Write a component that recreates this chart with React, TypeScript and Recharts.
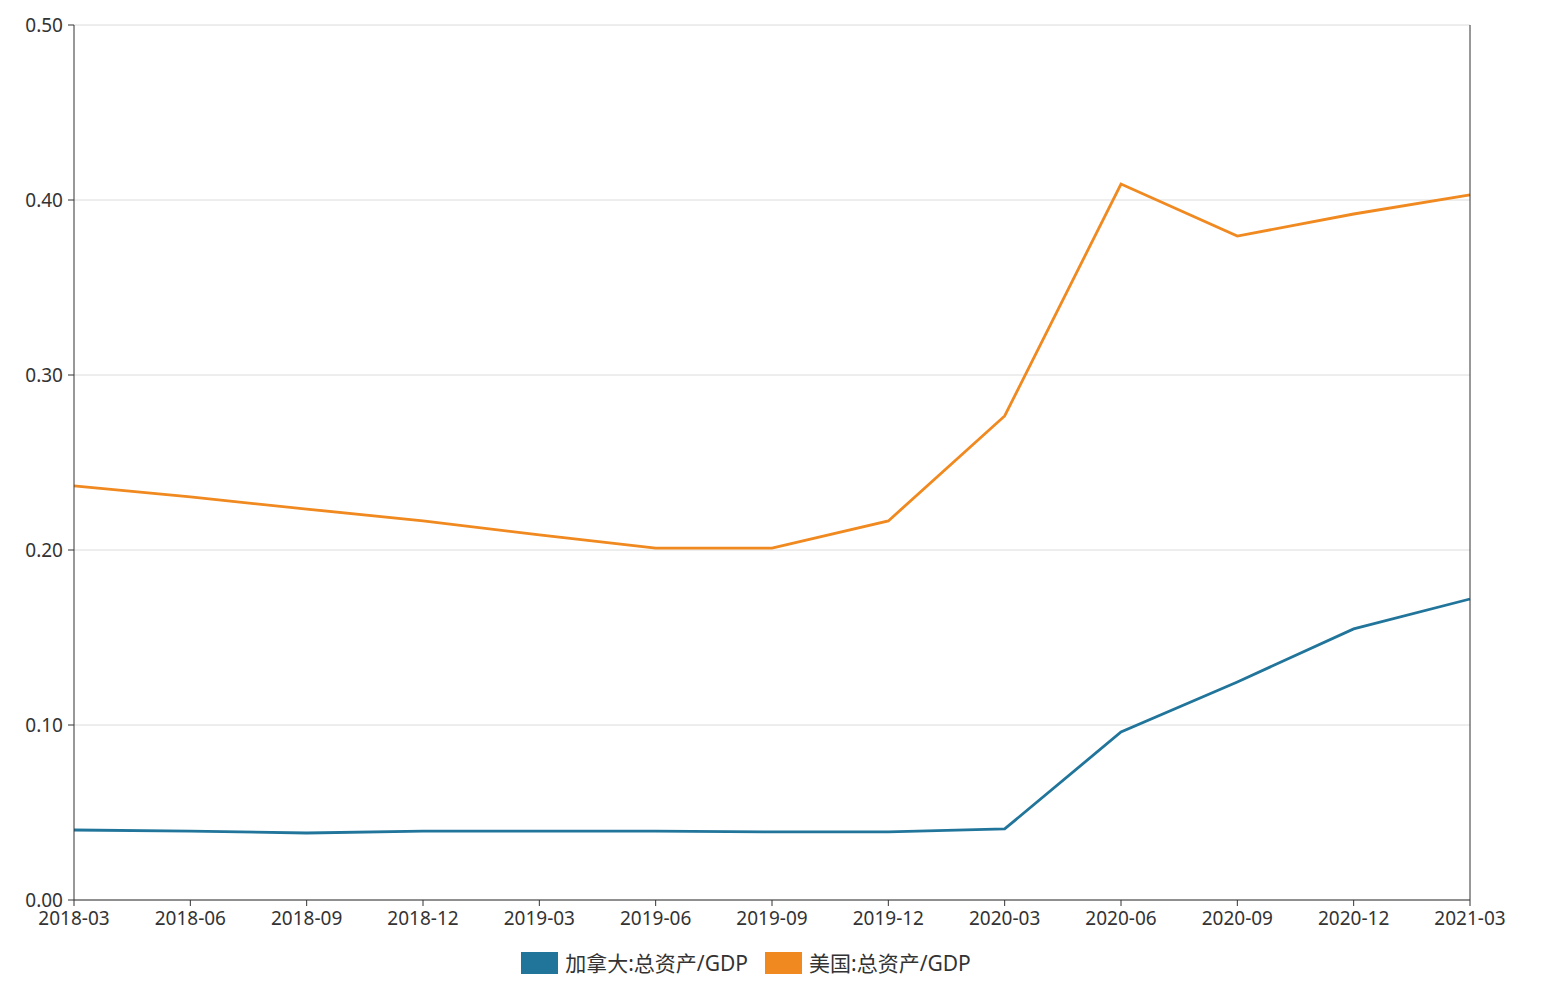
import React from 'react';
import { LineChart, Line, XAxis, YAxis, CartesianGrid, Legend } from 'recharts';

const categories = ['2018-03','2018-06','2018-09','2018-12','2019-03','2019-06','2019-09','2019-12','2020-03','2020-06','2020-09','2020-12','2021-03'];
const canada = [0.040,0.0394,0.0383,0.0394,0.0394,0.0394,0.0389,0.0389,0.0406,0.096,0.1246,0.1549,0.172];
const usa = [0.2366,0.2303,0.2234,0.2166,0.2086,0.2011,0.2011,0.2166,0.2766,0.4091,0.3794,0.392,0.4029];
const yTicks = [0, 0.1, 0.2, 0.3, 0.4, 0.5];
const seriesNames = ['加拿大:总资产/GDP', '美国:总资产/GDP'];
const colors = ['#21759b', '#f0891f'];

const data = categories.map((c, i) => ({ date: c, canada: canada[i], usa: usa[i] }));

const FONT = "'Noto Sans', 'Noto Sans CJK SC', sans-serif";

const LegendContent = () => (
  <div style={{ display: 'flex', justifyContent: 'center', paddingTop: 22, paddingRight: 56, fontFamily: FONT, fontSize: 21, color: '#333' }}>
    {seriesNames.map((n, i) => (
      <div key={n} style={{ display: 'flex', alignItems: 'center', marginRight: i === 0 ? 17 : 0 }}>
        <span style={{ display: 'inline-block', width: 37, height: 22, background: colors[i], marginRight: 7 }} />
        <span style={{ lineHeight: '22px' }}>{n}</span>
      </div>
    ))}
  </div>
);

export default function App() {
  const tickStyle = { fill: '#333', fontSize: 19, fontFamily: FONT };
  return (
    <div style={{ position: 'absolute', left: 0, top: 0, background: '#fff' }}>
      <LineChart width={1548} height={986} data={data} margin={{ top: 25, right: 0, left: 0, bottom: 10 }}>
        <CartesianGrid vertical={false} stroke="#dcdcdc" yAxisId="left" />
        <XAxis dataKey="date" height={30} interval={0} tick={tickStyle} stroke="#333" tickSize={6} tickMargin={6} padding={{ left: 0, right: 0 }} />
        <YAxis yAxisId="left" orientation="left" width={74} domain={[0, 0.5]} ticks={yTicks} tickFormatter={(v: number) => v.toFixed(2)} tick={tickStyle} stroke="#333" tickSize={6} tickMargin={5} />
        <YAxis yAxisId="right" orientation="right" width={78} domain={[0, 0.5]} ticks={yTicks} tickFormatter={(v: number) => v.toFixed(2)} tick={tickStyle} stroke="#333" tickSize={6} tickMargin={3} />
        <Legend verticalAlign="bottom" height={46} content={<LegendContent />} />
        <Line yAxisId="left" type="linear" dataKey="canada" name={seriesNames[0]} stroke={colors[0]} strokeWidth={2.8} dot={false} isAnimationActive={false} />
        <Line yAxisId="left" type="linear" dataKey="usa" name={seriesNames[1]} stroke={colors[1]} strokeWidth={2.8} dot={false} isAnimationActive={false} />
      </LineChart>
    </div>
  );
}
